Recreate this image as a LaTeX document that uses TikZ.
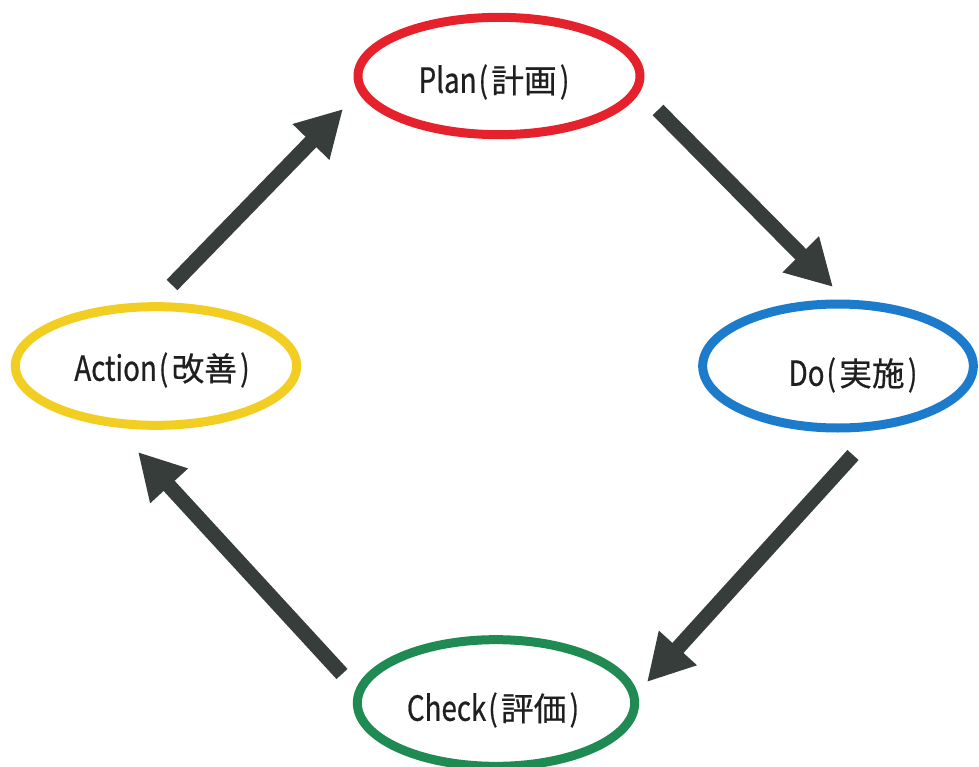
\documentclass[tikz,border=0pt]{standalone}
\usepackage{fontspec}
\usetikzlibrary{arrows.meta,shapes.geometric}
\newfontfamily\latfont[FakeStretch=0.8,FakeBold=0.6]{Noto Sans CJK JP}
\newfontfamily\jpfont[FakeBold=0.5]{Noto Sans CJK JP}
\definecolor{planred}{HTML}{E5222C}
\definecolor{actyellow}{HTML}{F3CE22}
\definecolor{doblue}{HTML}{1C7BCB}
\definecolor{checkgreen}{HTML}{1F8A52}
\definecolor{arrowgray}{HTML}{373D3A}
\newcommand{\pdcalabel}[2]{{\fontsize{26}{30}\latfont #1\kern1.5pt(}\kern2.5pt{\fontsize{24.5}{30}\jpfont #2}\kern2.5pt{\fontsize{26}{30}\latfont )}}
\tikzset{
  ring/.style={ellipse, draw=#1, line width=6.75pt, inner sep=0pt, fill=white},
  stagetext/.style={inner sep=0pt, text=black!88},
  cyclearrow/.style={draw=arrowgray, line width=11.25pt,
    -{Triangle[length=34.5pt, width=36pt]}}
}
\begin{document}
\begin{tikzpicture}[x=0.75pt, y=-0.75pt]
  \useasboundingbox[fill=white] (0,0) rectangle (979,767);

  % the four stages of the cycle
  \node[ring=planred, minimum width=211.5pt, minimum height=88pt] (plan) at (499,76) {};
  \node[ring=doblue, minimum width=203pt, minimum height=93pt] (do) at (838,366) {};
  \node[ring=checkgreen, minimum width=208pt, minimum height=95pt] (check) at (496,703) {};
  \node[ring=actyellow, minimum width=211pt, minimum height=89pt] (act) at (156,366) {};

  \node[stagetext] (planT) at (494,82) {\pdcalabel{Plan}{計画}};
  \node[stagetext] (doT) at (853,375) {\pdcalabel{Do}{実施}};
  \node[stagetext] (checkT) at (493,710) {\pdcalabel{Check}{評価}};
  \node[stagetext] (actT) at (162,370) {\pdcalabel{Action}{改善}};

  % arrow ends beside each stage
  \coordinate (actOut) at (172,285);
  \coordinate (planIn) at (343,109);
  \coordinate (planOut) at (658,110);
  \coordinate (doIn) at (833,287);
  \coordinate (doOut) at (853,455);
  \coordinate (checkIn) at (647,682);
  \coordinate (checkOut) at (342,674);
  \coordinate (actIn) at (138,452);

  \draw[cyclearrow] (actOut) -- (planIn);
  \draw[cyclearrow] (planOut) -- (doIn);
  \draw[cyclearrow] (doOut) -- (checkIn);
  \draw[cyclearrow] (checkOut) -- (actIn);
\end{tikzpicture}
\end{document}
